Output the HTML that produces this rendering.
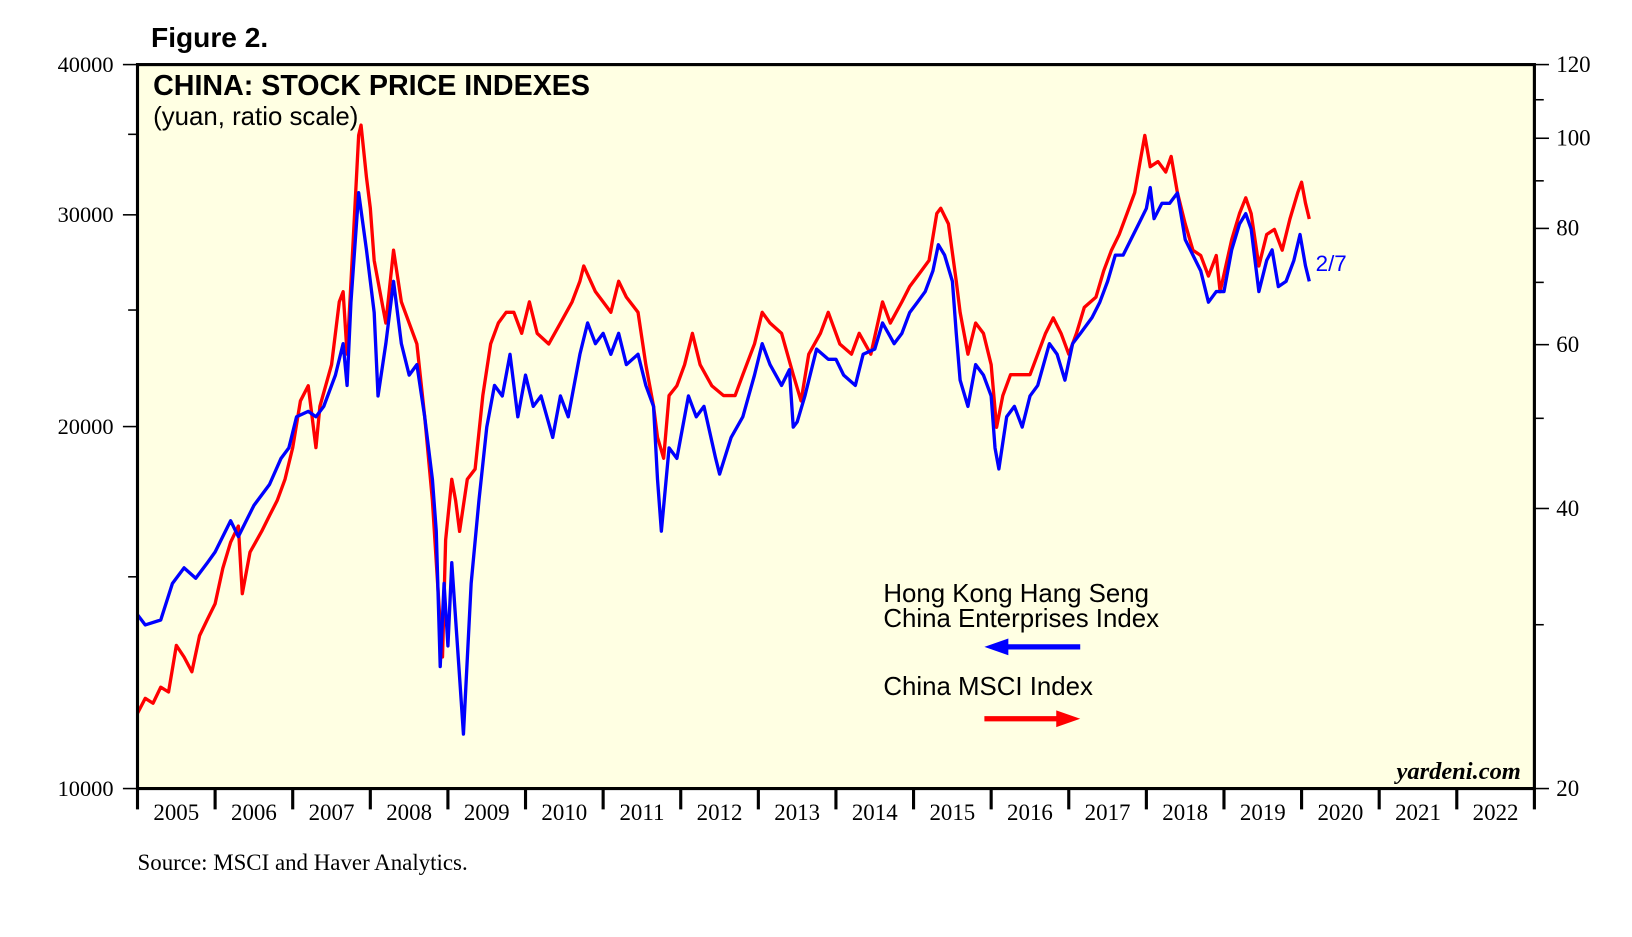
<!DOCTYPE html>
<html><head><meta charset="utf-8"><style>
body{margin:0;background:#fff;width:1632px;height:932px;overflow:hidden}
svg text{font-family:"Liberation Serif",serif}
</style></head><body>
<svg width="1632" height="932" viewBox="0 0 1566.7 894.7">
<text x="145" y="45" style="font-family:'Liberation Sans',sans-serif" font-size="27" font-weight="bold">Figure 2.</text>
<rect x="132" y="62" width="1341" height="695" fill="#ffffe3"/>
<g id="series"></g>
<rect x="132" y="62" width="1341" height="695" fill="none" stroke="#000" stroke-width="3"/>
<g id="axes"></g>
<text x="147" y="91" style="font-family:'Liberation Sans',sans-serif" font-size="27.5" font-weight="bold">CHINA: STOCK PRICE INDEXES</text>
<text x="147" y="120" style="font-family:'Liberation Sans',sans-serif" font-size="24.8">(yuan, ratio scale)</text>
<text x="848" y="578" style="font-family:'Liberation Sans',sans-serif" font-size="24.8">Hong Kong Hang Seng</text>
<text x="848" y="602" style="font-family:'Liberation Sans',sans-serif" font-size="24.8">China Enterprises Index</text>
<g><line x1="960" y1="621" x2="1037" y2="621" stroke="#0000ff" stroke-width="5"/><polygon points="945,621 968,613 968,629" fill="#0000ff"/></g>
<text x="848" y="667" style="font-family:'Liberation Sans',sans-serif" font-size="24.8">China MSCI Index</text>
<g><line x1="945" y1="690" x2="1020" y2="690" stroke="#ff0000" stroke-width="5"/><polygon points="1037,690 1014,682 1014,698" fill="#ff0000"/></g>
<text x="1263" y="260" style="font-family:'Liberation Sans',sans-serif" font-size="21.5" fill="#0000ff">2/7</text>
<text x="1460" y="748" text-anchor="end" font-size="23.5" font-weight="bold" font-style="italic">yardeni.com</text>
<text x="132" y="835" font-size="22">Source: MSCI and Haver Analytics.</text>
</svg>
<script>
const blueDates=[2005.0,2005.1,2005.3,2005.45,2005.6,2005.75,2005.9,2006.0,2006.2,2006.3,2006.5,2006.7,2006.85,2006.95,2007.05,2007.2,2007.3,2007.4,2007.55,2007.65,2007.7,2007.75,2007.85,2007.95,2008.05,2008.1,2008.2,2008.3,2008.4,2008.5,2008.6,2008.7,2008.8,2008.85,2008.9,2008.95,2009.0,2009.05,2009.15,2009.2,2009.3,2009.4,2009.5,2009.6,2009.7,2009.8,2009.9,2010.0,2010.1,2010.2,2010.35,2010.45,2010.55,2010.7,2010.8,2010.9,2011.0,2011.1,2011.2,2011.3,2011.45,2011.55,2011.65,2011.7,2011.75,2011.85,2011.95,2012.1,2012.2,2012.3,2012.45,2012.5,2012.65,2012.8,2012.95,2013.05,2013.15,2013.3,2013.4,2013.45,2013.5,2013.6,2013.75,2013.9,2014.0,2014.1,2014.25,2014.35,2014.5,2014.6,2014.75,2014.85,2014.95,2015.05,2015.15,2015.25,2015.32,2015.4,2015.5,2015.55,2015.6,2015.7,2015.8,2015.9,2016.0,2016.05,2016.1,2016.2,2016.3,2016.4,2016.5,2016.6,2016.75,2016.85,2016.95,2017.05,2017.15,2017.3,2017.4,2017.5,2017.6,2017.7,2017.8,2017.9,2018.0,2018.05,2018.1,2018.2,2018.3,2018.4,2018.5,2018.6,2018.7,2018.8,2018.9,2019.0,2019.1,2019.2,2019.28,2019.35,2019.45,2019.55,2019.62,2019.7,2019.8,2019.9,2019.98,2020.05,2020.1];
const blueValues=[13950,13680,13810,14810,15260,14960,15410,15730,16700,16200,17200,17900,18820,19200,20380,20590,20380,20790,22070,23440,21640,25380,31300,28050,24880,21210,23440,26410,23440,22070,22520,20380,18080,16370,12630,14810,13140,15410,12380,11100,14810,17370,19980,21640,21210,22970,20380,22070,20790,21210,19590,21210,20380,22970,24390,23440,23910,22970,23910,22520,22970,21640,20790,18080,16370,19200,18820,21210,20380,20790,18820,18260,19590,20380,22070,23440,22520,21640,22300,19980,20180,21210,23200,22750,22750,22070,21640,22970,23200,24390,23440,23910,24880,25380,25900,26950,28330,27770,26410,23910,21860,20790,22520,22070,21210,19200,18440,20380,20790,19980,21210,21640,23440,22970,21860,23440,23910,24640,25380,26410,27770,27770,28610,29480,30370,31610,29780,30670,30670,31280,28610,27770,26950,25380,25900,25900,28050,29480,30070,29190,25900,27490,28050,26150,26410,27490,28890,27220,26410];
const redDates=[2005.0,2005.1,2005.2,2005.3,2005.4,2005.5,2005.6,2005.7,2005.8,2005.9,2006.0,2006.1,2006.2,2006.3,2006.35,2006.45,2006.6,2006.7,2006.8,2006.9,2007.0,2007.1,2007.2,2007.3,2007.35,2007.5,2007.6,2007.65,2007.7,2007.78,2007.85,2007.88,2007.95,2008.0,2008.05,2008.1,2008.2,2008.3,2008.4,2008.5,2008.6,2008.7,2008.8,2008.9,2008.93,2008.97,2009.05,2009.1,2009.15,2009.25,2009.35,2009.45,2009.55,2009.65,2009.75,2009.85,2009.95,2010.05,2010.15,2010.3,2010.45,2010.6,2010.7,2010.75,2010.9,2011.0,2011.1,2011.2,2011.3,2011.45,2011.55,2011.65,2011.7,2011.78,2011.85,2011.95,2012.05,2012.15,2012.25,2012.4,2012.55,2012.7,2012.8,2012.95,2013.05,2013.15,2013.3,2013.45,2013.55,2013.65,2013.8,2013.9,2014.05,2014.2,2014.3,2014.45,2014.6,2014.7,2014.85,2014.95,2015.1,2015.2,2015.3,2015.35,2015.45,2015.55,2015.6,2015.7,2015.8,2015.9,2016.0,2016.07,2016.15,2016.25,2016.35,2016.5,2016.6,2016.7,2016.8,2016.9,2017.0,2017.1,2017.2,2017.35,2017.45,2017.55,2017.65,2017.75,2017.85,2017.92,2017.98,2018.05,2018.15,2018.25,2018.32,2018.4,2018.5,2018.6,2018.7,2018.8,2018.9,2018.95,2019.1,2019.2,2019.28,2019.35,2019.45,2019.55,2019.65,2019.75,2019.85,2019.95,2020.0,2020.05,2020.1];
const redValues=[24.1,25.0,24.7,25.7,25.4,28.5,27.7,26.7,29.2,30.4,31.6,34.5,36.8,38.3,32.4,35.9,37.8,39.3,40.8,43.0,46.5,52.2,54.2,46.5,51.5,57.1,66.7,68.4,58.6,77.8,100.7,103.3,90.8,84.1,73.9,70.2,63.3,75.8,66.7,63.3,60.1,50.2,40.8,30.0,27.7,37.0,43.0,40.8,37.8,43.0,44.1,52.9,60.1,63.3,65.0,65.0,61.7,66.7,61.7,60.1,63.3,66.7,70.2,72.9,68.4,66.7,65.0,70.2,67.5,65.0,57.1,51.5,47.7,45.3,52.9,54.2,57.1,61.7,57.1,54.2,52.9,52.9,55.7,60.1,65.0,63.3,61.7,55.7,52.2,58.6,61.7,65.0,60.1,58.6,61.7,58.6,66.7,63.3,66.7,69.3,72.0,73.9,83.0,84.1,80.9,70.2,65.0,58.6,63.3,61.7,57.1,48.9,52.9,55.7,55.7,55.7,58.6,61.7,64.1,61.7,58.6,61.7,65.8,67.5,72.0,75.8,78.8,83.0,87.4,94.4,100.7,93.2,94.4,92.0,95.6,87.4,80.9,75.8,74.8,71.1,74.8,68.4,77.8,83.0,86.3,83.0,72.9,78.8,79.8,75.8,81.9,87.4,89.7,85.2,81.9];
const yearLabels=[2005,2006,2007,2008,2009,2010,2011,2012,2013,2014,2015,2016,2017,2018,2019,2020,2021,2022];
const leftTicks=[10000,20000,30000,40000];
const leftMinor=[15000,25000,35000];
const rightTicks=[20,40,60,80,100,120];
const rightMinor=[30,50,70,90,110];

const X0=132,X1=1473,Y0=62,Y1=757;
const xS=d=>X0+(d-2005)*(X1-X0)/18;
const yL=v=>Y1-(Y1-Y0)*Math.log(v/10000)/Math.log(4);
const yR=v=>Y1-(Y1-Y0)*Math.log(v/20)/Math.log(6);
const NS="http://www.w3.org/2000/svg";
function mk(t,a,p){const e=document.createElementNS(NS,t);for(const k in a)e.setAttribute(k,a[k]);p.appendChild(e);return e;}
const sg=document.getElementById('series'),ax=document.getElementById('axes');
let pr=redDates.map((d,i)=>xS(d).toFixed(1)+','+yR(redValues[i]).toFixed(1)).join(' ');
const pRed=mk('polyline',{points:pr,fill:'none',stroke:'#ff0000','stroke-width':3.2,'stroke-linejoin':'round'},sg);


let pb=blueDates.map((d,i)=>xS(d).toFixed(1)+','+yL(blueValues[i]).toFixed(1)).join(' ');
const pBlue=mk('polyline',{points:pb,fill:'none',stroke:'#0000ff','stroke-width':3.2,'stroke-linejoin':'round'},sg);


leftTicks.forEach(v=>{const y=yL(v);
 const l=mk('line',{x1:118,x2:132,y1:y,y2:y,stroke:'#000','stroke-width':1.5},ax);
 
 
 const t=mk('text',{x:109,y:y+7,'text-anchor':'end','font-size':21.5},ax);t.textContent=v;
 
 });
leftMinor.forEach(v=>{const y=yL(v);const l=mk('line',{x1:123,x2:132,y1:y,y2:y,stroke:'#000','stroke-width':1.5},ax);
 
 });
rightTicks.forEach(v=>{const y=yR(v);
 const l=mk('line',{x1:1473,x2:1487,y1:y,y2:y,stroke:'#000','stroke-width':1.5},ax);
 
 
 const t=mk('text',{x:1494,y:y+7,'font-size':22},ax);t.textContent=v;
 
 });
rightMinor.forEach(v=>{const y=yR(v);const l=mk('line',{x1:1473,x2:1482,y1:y,y2:y,stroke:'#000','stroke-width':1.5},ax);
 
 });
for(let i=0;i<=yearLabels.length;i++){const x=xS(2005+i);
 const l=mk('line',{x1:x,x2:x,y1:757,y2:777,stroke:'#000','stroke-width':3},ax);
 
 }
yearLabels.forEach(yr=>{const t=mk('text',{x:xS(yr+0.5),y:787,'text-anchor':'middle','font-size':22},ax);t.textContent=yr;
 
 });
</script>
</body></html>
